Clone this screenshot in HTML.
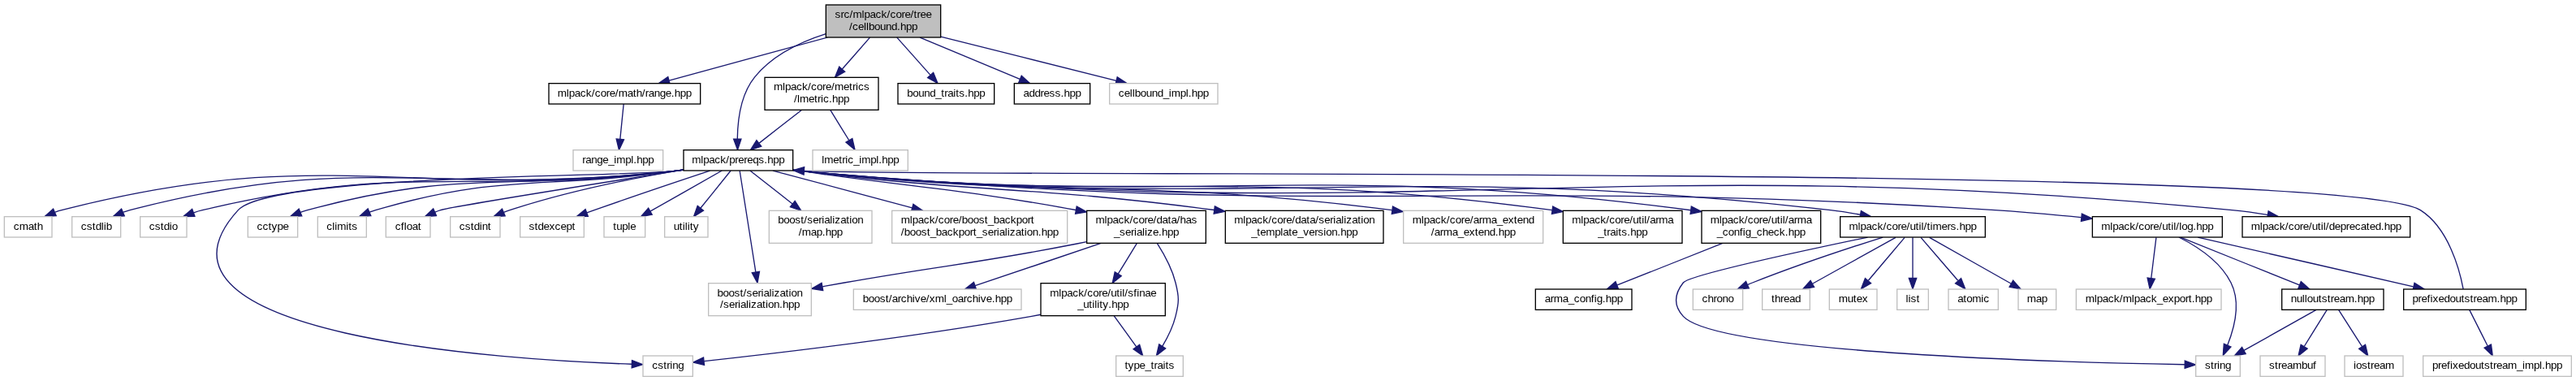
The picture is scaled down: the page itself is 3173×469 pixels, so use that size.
<!DOCTYPE html>
<html><head><meta charset="utf-8"><title>cellbound.hpp include dependency graph</title><style>html,body{margin:0;padding:0;background:#fff;width:3173px;height:469px;overflow:hidden}svg{display:block;will-change:transform}text{font-family:"Liberation Sans",sans-serif;font-size:10.125px;fill:#000}</style></head><body>
<svg width="3173" height="469" viewBox="0 0 2379.75 351.75"><rect x="0" y="0" width="2379.75" height="351.75" fill="#fff"/><g transform="translate(4 348)">
<g fill="none" stroke="#191970">
<path d="M759,-316.75C735.6,-309.36 709.72,-297.1 693.37,-277 680.29,-260.93 677.43,-236.6 677.21,-219.82"/>
<path d="M760.43,-313.48C716.66,-301.57 654.68,-284.72 614.17,-273.7"/>
<path d="M799.63,-313.4C792.16,-304.88 782.49,-293.85 774.06,-284.23"/>
<path d="M824.59,-313.4C833.63,-303.26 845.85,-289.57 855.33,-278.94"/>
<path d="M845.85,-313.4C873.34,-301.94 911.75,-285.94 938.11,-274.95"/>
<path d="M865.04,-314.19C912.92,-302.17 982.53,-284.7 1027.29,-273.47"/>
<path d="M627.3,-191.08C624.16,-190.69 621.04,-190.32 618,-190 367.8,-163.31 296.76,-216.39 53,-154 51.01,-153.49 49,-152.86 47,-152.14"/>
<path d="M627.3,-191.11C624.15,-190.71 621.04,-190.34 618,-190 395.67,-165.39 332.48,-210.33 116,-154 114.02,-153.48 112,-152.84 110.01,-152.12"/>
<path d="M627.29,-191.15C624.15,-190.74 621.03,-190.35 618,-190 425.3,-167.6 371.76,-198.74 183,-154 180.33,-153.37 177.59,-152.57 174.88,-151.67"/>
<path d="M627.29,-191.18C624.15,-190.76 621.03,-190.36 618,-190 573.47,-184.67 246.26,-187.09 216,-154 109.08,-37.08 466.16,-15.65 579.56,-11.82"/>
<path d="M627.28,-191.24C624.14,-190.8 621.03,-190.39 618,-190 468.15,-170.79 425.77,-193.68 280,-154 277.85,-153.41 275.66,-152.7 273.49,-151.91"/>
<path d="M627.27,-191.32C624.13,-190.87 621.02,-190.42 618,-190 495.93,-172.86 461.33,-188.52 343,-154 341.12,-153.45 339.21,-152.8 337.3,-152.09"/>
<path d="M627.49,-191.12C551.03,-179.13 413.61,-157.35 403,-154 401.33,-153.47 399.64,-152.87 397.95,-152.21"/>
<path d="M627.31,-191.35C584.06,-184.07 520.55,-171.61 467,-154 465.13,-153.39 463.23,-152.7 461.32,-151.96"/>
<path d="M651.93,-190.43C625.05,-181.54 581.98,-167.13 545,-154 542.76,-153.2 540.45,-152.37 538.13,-151.53"/>
<path d="M662.96,-190.48C645.72,-180.71 617.26,-164.58 596.97,-153.08"/>
<path d="M671.12,-190.48C663.85,-181.46 652.2,-167.02 643.16,-155.81"/>
<path d="M679.37,-190.31C682.38,-171.3 689.63,-125.47 694.14,-96.9"/>
<path d="M688.89,-190.48C699.09,-182.49 714.72,-170.25 728.11,-159.77"/>
<path d="M709.95,-190.48C743.4,-181.55 796.78,-167.31 838.62,-156.14"/>
<path d="M728.53,-191.26C731.39,-190.83 734.23,-190.41 737,-190 846.61,-173.87 877.15,-174.56 989.83,-154.13"/>
<path d="M728.5,-191.1C731.38,-190.71 734.22,-190.34 737,-190 903.03,-169.53 948.3,-176.58 1117.72,-154.1"/>
<path d="M728.81,-190.97C731.58,-190.62 734.32,-190.29 737,-190 975.46,-164 1040.09,-184.86 1281.94,-154.02"/>
<path d="M728.81,-190.92C731.58,-190.58 734.32,-190.27 737,-190 1040.97,-159.01 1123.29,-195.48 1429.88,-153.98"/>
<path d="M728.81,-190.9C731.57,-190.56 734.32,-190.26 737,-190 1097.66,-154.7 1194.81,-201.73 1557.96,-153.96"/>
<path d="M728.8,-190.88C731.57,-190.55 734.32,-190.25 737,-190 1157.64,-150.08 1267.18,-201.73 1687,-154 1695.92,-152.99 1705.37,-151.51 1714.45,-149.89"/>
<path d="M728.8,-190.86C731.57,-190.54 734.32,-190.25 737,-190 1224.97,-144.97 1349.98,-185.59 1839,-154 1865.04,-152.32 1893.57,-149.74 1918.68,-147.23"/>
<path d="M728.8,-190.84C731.57,-190.52 734.32,-190.24 737,-190 1321.99,-137.62 1473.39,-210.41 2058,-154 2068.63,-152.97 2079.92,-151.43 2090.72,-149.73"/>
<path d="M999.88,-124.8C996.88,-124.18 993.91,-123.57 991,-123 895.94,-104.29 871.41,-103.85 776,-87 769.44,-85.84 762.57,-84.6 755.75,-83.36"/>
<path d="M1046.32,-123.4C1041.24,-115.13 1034.7,-104.51 1028.91,-95.1"/>
<path d="M1065.07,-123.26C1071.3,-113.55 1078.71,-100.12 1082,-87 1085.35,-73.64 1085.34,-69.37 1082,-56 1079.56,-46.25 1074.56,-36.29 1069.76,-28.23"/>
<path d="M1013.12,-123.4C978.36,-111.69 929.49,-95.23 896.84,-84.23"/>
<path d="M957.46,-57.56C954.61,-57.01 951.77,-56.49 949,-56 838.83,-36.55 707.02,-21.18 646.44,-14.55"/>
<path d="M1025.19,-56.4C1031.37,-47.84 1039.3,-36.87 1045.82,-27.86"/>
<path d="M1587.41,-123.4C1558.38,-111.89 1517.78,-95.8 1490.05,-84.81"/>
<path d="M1763,-128.73C1763,-119.18 1763,-103.62 1763,-91.28"/>
<path d="M1770.55,-128.73C1779.28,-118.6 1793.85,-101.69 1804.74,-89.06"/>
<path d="M1778.51,-128.73C1797.91,-117.77 1831.33,-98.88 1854.03,-86.05"/>
<path d="M1721.44,-128.97C1661.24,-116.43 1556.33,-93.75 1551,-87 1542.46,-76.19 1541.71,-66.17 1551,-56 1582.3,-21.72 1911.32,-13.26 2014.34,-11.45"/>
<path d="M1735.43,-128.97C1705.49,-119.51 1656.4,-103.4 1615,-87 1613.58,-86.44 1612.14,-85.85 1610.68,-85.24"/>
<path d="M1747.22,-128.73C1727.49,-117.77 1693.49,-98.88 1670.39,-86.05"/>
<path d="M1755.58,-128.73C1747.01,-118.6 1732.7,-101.69 1722.01,-89.06"/>
<path d="M2008.9,-128.99C2025.16,-120.84 2047.02,-106.84 2057,-87 2066.16,-68.79 2060.14,-45.29 2053.78,-29.27"/>
<path d="M2010.51,-128.87C2038.67,-117.57 2088.2,-97.7 2120.3,-84.82"/>
<path d="M1987.92,-128.73C1986.75,-119.18 1984.83,-103.62 1983.31,-91.28"/>
<path d="M2026.42,-128.94C2077.61,-117.22 2169.48,-96.19 2225.48,-83.38"/>
<path d="M2135.81,-61.98C2118.34,-52.17 2089.42,-35.93 2068.92,-24.42"/>
<path d="M2145.7,-61.98C2140.26,-53.23 2131.64,-39.37 2124.76,-28.31"/>
<path d="M2156.44,-61.98C2162.09,-53.14 2171.06,-39.09 2178.16,-27.98"/>
<path d="M2271.62,-81.1C2268.33,-98.44 2258.23,-137.39 2232,-154 2163.72,-197.22 892.2,-183.54 739.02,-190.22"/>
<path d="M2277.3,-61.98C2281.66,-53.32 2288.56,-39.65 2294.1,-28.65"/>
<path d="M572.14,-251.98C571.29,-243.58 569.97,-230.48 568.88,-219.66"/>
<path d="M736.52,-246.4C724.73,-237.22 709.38,-225.26 697.39,-215.92"/>
<path d="M763.06,-246.4C768.25,-238.02 774.87,-227.33 780.37,-218.42"/>
</g><g fill="#191970" stroke="#191970">
<polygon points="680.72,-219.63 677.4,-209.61 673.72,-219.58 680.72,-219.63"/>
<polygon points="614.93,-270.28 604.36,-271.03 613.09,-277.03 614.93,-270.28"/>
<polygon points="776.57,-281.79 767.34,-276.58 771.31,-286.4 776.57,-281.79"/>
<polygon points="858.2,-280.99 862.24,-271.19 852.97,-276.33 858.2,-280.99"/>
<polygon points="939.7,-278.08 947.58,-271.01 937.01,-271.62 939.7,-278.08"/>
<polygon points="1028.15,-276.86 1036.99,-271.03 1026.44,-270.07 1028.15,-276.86"/>
<polygon points="47.92,-148.73 37.35,-148.06 45.2,-155.18 47.92,-148.73"/>
<polygon points="110.93,-148.71 100.35,-148.03 108.2,-155.16 110.93,-148.71"/>
<polygon points="175.93,-148.33 165.34,-148.12 173.49,-154.89 175.93,-148.33"/>
<polygon points="579.87,-15.31 589.75,-11.5 579.65,-8.31 579.87,-15.31"/>
<polygon points="274.81,-148.67 264.23,-148.06 272.13,-155.13 274.81,-148.67"/>
<polygon points="338.62,-148.84 328.04,-148.15 335.87,-155.28 338.62,-148.84"/>
<polygon points="399.09,-148.89 388.53,-148.06 396.27,-155.29 399.09,-148.89"/>
<polygon points="462.57,-148.69 452,-148.02 459.85,-155.14 462.57,-148.69"/>
<polygon points="539.24,-148.21 528.64,-148.05 536.82,-154.78 539.24,-148.21"/>
<polygon points="598.44,-149.89 588.02,-148.01 594.99,-155.98 598.44,-149.89"/>
<polygon points="645.87,-153.59 636.86,-148.01 640.42,-157.99 645.87,-153.59"/>
<polygon points="697.62,-97.31 695.73,-86.89 690.71,-96.22 697.62,-97.31"/>
<polygon points="730.37,-162.44 736.09,-153.52 726.06,-156.93 730.37,-162.44"/>
<polygon points="839.68,-159.48 848.44,-153.52 837.88,-152.72 839.68,-159.48"/>
<polygon points="990.69,-157.53 999.9,-152.28 989.43,-150.64 990.69,-157.53"/>
<polygon points="1118.28,-157.56 1127.73,-152.76 1117.35,-150.62 1118.28,-157.56"/>
<polygon points="1282.64,-157.45 1292.1,-152.7 1281.74,-150.51 1282.64,-157.45"/>
<polygon points="1430.52,-157.43 1439.95,-152.6 1429.57,-150.49 1430.52,-157.43"/>
<polygon points="1558.5,-157.42 1567.96,-152.63 1557.58,-150.48 1558.5,-157.42"/>
<polygon points="1715.32,-153.29 1724.51,-148.01 1714.04,-146.41 1715.32,-153.29"/>
<polygon points="1919.26,-150.69 1928.86,-146.2 1918.55,-143.73 1919.26,-150.69"/>
<polygon points="2091.6,-153.13 2100.9,-148.06 2090.46,-146.23 2091.6,-153.13"/>
<polygon points="756.29,-79.9 745.83,-81.53 755.03,-86.78 756.29,-79.9"/>
<polygon points="1031.88,-93.26 1023.66,-86.58 1025.92,-96.93 1031.88,-93.26"/>
<polygon points="1072.69,-26.32 1064.37,-19.77 1066.79,-30.08 1072.69,-26.32"/>
<polygon points="897.85,-80.88 887.26,-81.01 895.62,-87.52 897.85,-80.88"/>
<polygon points="646.64,-11.05 636.32,-13.45 645.89,-18.01 646.64,-11.05"/>
<polygon points="1048.72,-29.81 1051.74,-19.66 1043.05,-25.71 1048.72,-29.81"/>
<polygon points="1491.05,-81.44 1480.46,-81.01 1488.47,-87.95 1491.05,-81.44"/>
<polygon points="1766.5,-91.13 1763,-81.13 1759.5,-91.13 1766.5,-91.13"/>
<polygon points="1807.69,-90.99 1811.57,-81.13 1802.39,-86.42 1807.69,-90.99"/>
<polygon points="1855.75,-89.09 1862.74,-81.13 1852.31,-83 1855.75,-89.09"/>
<polygon points="2014.47,-14.95 2024.41,-11.28 2014.35,-7.95 2014.47,-14.95"/>
<polygon points="1611.71,-81.87 1601.15,-81.09 1608.92,-88.29 1611.71,-81.87"/>
<polygon points="1671.97,-82.92 1661.53,-81.13 1668.57,-89.04 1671.97,-82.92"/>
<polygon points="1724.43,-86.5 1715.3,-81.13 1719.09,-91.02 1724.43,-86.5"/>
<polygon points="2056.92,-27.72 2049.71,-19.96 2050.5,-30.53 2056.92,-27.72"/>
<polygon points="2121.68,-88.04 2129.66,-81.06 2119.07,-81.54 2121.68,-88.04"/>
<polygon points="1986.76,-90.62 1982.06,-81.13 1979.81,-91.48 1986.76,-90.62"/>
<polygon points="2226.53,-86.73 2235.5,-81.08 2224.97,-79.9 2226.53,-86.73"/>
<polygon points="2070.59,-21.35 2060.16,-19.51 2067.17,-27.46 2070.59,-21.35"/>
<polygon points="2127.54,-26.15 2119.29,-19.51 2121.6,-29.85 2127.54,-26.15"/>
<polygon points="2181.13,-29.82 2183.57,-19.51 2175.23,-26.05 2181.13,-29.82"/>
<polygon points="738.57,-186.74 728.8,-190.83 738.99,-193.73 738.57,-186.74"/>
<polygon points="2297.33,-30.01 2298.71,-19.51 2291.08,-26.86 2297.33,-30.01"/>
<polygon points="572.34,-219.11 567.86,-209.51 565.38,-219.81 572.34,-219.11"/>
<polygon points="699.33,-212.94 689.35,-209.66 694.94,-218.51 699.33,-212.94"/>
<polygon points="783.38,-220.08 785.8,-209.66 777.47,-216.6 783.38,-220.08"/>
</g>
<rect x="759" y="-343.5" width="106" height="30" fill="#bfbfbf" stroke="#000"/>
<text x="767.38 772.62 775.62 780.88 783.88 792.12 794.38 799.62 804.88 810.12 815.38 818.38 823.62 828.88 831.88 837.12 840.12 843.12 846.12 851.38" y="-331.5">src/mlpack/core/tree</text>
<text x="780.5 783.5 788.75 794 796.25 798.5 803.75 809 814.25 819.5 824.75 827.75 833 838.25" y="-320.5">/cellbound.hpp</text>
<rect x="627.5" y="-209.5" width="101" height="19" fill="#fff" stroke="#000"/>
<text x="635.25 643.5 645.75 651 656.25 661.5 666.75 669.75 675 678 683.25 686.25 691.5 696.75 702 705 710.25 715.5" y="-197.5">mlpack/prereqs.hpp</text>
<rect x="503" y="-271" width="140" height="19" fill="#fff" stroke="#000"/>
<text x="511.12 519.38 521.62 526.88 532.12 537.38 542.62 545.62 550.88 556.12 559.12 564.38 567.38 575.62 580.88 583.88 589.12 592.12 595.12 600.38 605.62 610.88 616.12 619.12 624.38 629.62" y="-259">mlpack/core/math/range.hpp</text>
<rect x="702.5" y="-276.5" width="105" height="30" fill="#fff" stroke="#000"/>
<text x="710.75 719 721.25 726.5 731.75 737 742.25 745.25 750.5 755.75 758.75 764 767 775.25 780.5 783.5 786.5 788.75 794" y="-264.5">mlpack/core/metrics</text>
<text x="729.5 732.5 734.75 743 748.25 751.25 754.25 756.5 761.75 764.75 770 775.25" y="-253.5">/lmetric.hpp</text>
<rect x="825.5" y="-271" width="89" height="19" fill="#fff" stroke="#000"/>
<text x="834 839.25 844.5 849.75 855 860.25 865.5 868.5 871.5 876.75 879 882 887.25 890.25 895.5 900.75" y="-259">bound_traits.hpp</text>
<rect x="933" y="-271" width="70" height="19" fill="#fff" stroke="#000"/>
<text x="941.38 946.62 951.88 957.12 960.12 965.38 970.62 975.88 978.88 984.12 989.38" y="-259">address.hpp</text>
<rect x="1021" y="-271" width="100" height="19" fill="#fff" stroke="#bfbfbf"/>
<text x="1029.38 1034.62 1039.88 1042.12 1044.38 1049.62 1054.88 1060.12 1065.38 1070.62 1075.88 1078.12 1086.38 1091.62 1093.88 1096.88 1102.12 1107.38" y="-259">cellbound_impl.hpp</text>
<rect x="0" y="-148" width="44" height="19" fill="#fff" stroke="#bfbfbf"/>
<text x="8.5 13.75 22 27.25 30.25" y="-136">cmath</text>
<rect x="62.5" y="-148" width="45" height="19" fill="#fff" stroke="#bfbfbf"/>
<text x="70.75 76 81.25 84.25 89.5 91.75 94" y="-136">cstdlib</text>
<rect x="125.5" y="-148" width="43" height="19" fill="#fff" stroke="#bfbfbf"/>
<text x="133.88 139.12 144.38 147.38 152.62 154.88" y="-136">cstdio</text>
<rect x="590" y="-19.5" width="46" height="19" fill="#fff" stroke="#bfbfbf"/>
<text x="598.38 603.62 608.88 611.88 614.88 617.12 622.38" y="-7.5">cstring</text>
<rect x="225" y="-148" width="46" height="19" fill="#fff" stroke="#bfbfbf"/>
<text x="233.38 238.62 243.88 246.88 252.12 257.38" y="-136">cctype</text>
<rect x="289.5" y="-148" width="45" height="19" fill="#fff" stroke="#bfbfbf"/>
<text x="297.75 303 305.25 307.5 315.75 318 321" y="-136">climits</text>
<rect x="352.5" y="-148" width="41" height="19" fill="#fff" stroke="#bfbfbf"/>
<text x="361 366.25 369.25 371.5 376.75 382" y="-136">cfloat</text>
<rect x="412" y="-148" width="46" height="19" fill="#fff" stroke="#bfbfbf"/>
<text x="420.38 425.62 430.88 433.88 439.12 441.38 446.62" y="-136">cstdint</text>
<rect x="476.5" y="-148" width="59" height="19" fill="#fff" stroke="#bfbfbf"/>
<text x="484.62 489.88 492.88 498.12 503.38 508.62 513.88 519.12 524.38" y="-136">stdexcept</text>
<rect x="554" y="-148" width="38" height="19" fill="#fff" stroke="#bfbfbf"/>
<text x="562.5 565.5 570.75 576 578.25" y="-136">tuple</text>
<rect x="610" y="-148" width="40" height="19" fill="#fff" stroke="#bfbfbf"/>
<text x="618.38 623.62 626.62 628.88 631.12 633.38 636.38" y="-136">utility</text>
<rect x="650.5" y="-86.5" width="95" height="30" fill="#fff" stroke="#bfbfbf"/>
<text x="658.62 663.88 669.12 674.38 679.62 682.62 685.62 690.88 696.12 699.12 701.38 706.62 708.88 711.12 716.38 721.62 724.62 726.88 732.12" y="-74.5">boost/serialization</text>
<text x="661.25 664.25 669.5 674.75 677.75 680 685.25 687.5 689.75 695 700.25 703.25 705.5 710.75 716 719 724.25 729.5" y="-63.5">/serialization.hpp</text>
<rect x="706.5" y="-153.5" width="95" height="30" fill="#fff" stroke="#bfbfbf"/>
<text x="714.62 719.88 725.12 730.38 735.62 738.62 741.62 746.88 752.12 755.12 757.38 762.62 764.87 767.12 772.37 777.62 780.62 782.87 788.12" y="-141.5">boost/serialization</text>
<text x="733.75 736.75 745 750.25 755.5 758.5 763.75 769" y="-130.5">/map.hpp</text>
<rect x="820" y="-153.5" width="162" height="30" fill="#fff" stroke="#bfbfbf"/>
<text x="828.25 836.5 838.75 844 849.25 854.5 859.75 862.75 868 873.25 876.25 881.5 884.5 889.75 895 900.25 905.5 908.5 913.75 919 924.25 929.5 934.75 940 945.25 948.25" y="-141.5">mlpack/core/boost_backport</text>
<text x="828.25 831.25 836.5 841.75 847 852.25 855.25 860.5 865.75 871 876.25 881.5 886.75 892 895 898 903.25 908.5 913.75 916.75 919 924.25 926.5 928.75 934 939.25 942.25 944.5 949.75 955 958 963.25 968.5" y="-130.5">/boost_backport_serialization.hpp</text>
<rect x="1000" y="-153.5" width="110" height="30" fill="#fff" stroke="#000"/>
<text x="1008.12 1016.38 1018.62 1023.88 1029.12 1034.38 1039.62 1042.62 1047.88 1053.12 1056.12 1061.38 1064.38 1069.62 1074.88 1077.88 1083.12 1086.12 1091.38 1096.62" y="-141.5">mlpack/core/data/has</text>
<text x="1025 1030.25 1035.5 1040.75 1043.75 1046 1051.25 1053.5 1055.75 1061 1066.25 1069.25 1074.5 1079.75" y="-130.5">_serialize.hpp</text>
<rect x="1128" y="-153.5" width="146" height="30" fill="#fff" stroke="#000"/>
<text x="1136.12 1144.38 1146.62 1151.88 1157.12 1162.38 1167.62 1170.62 1175.88 1181.12 1184.12 1189.38 1192.38 1197.62 1202.88 1205.88 1211.12 1214.12 1219.38 1224.62 1227.62 1229.88 1235.12 1237.38 1239.62 1244.88 1250.12 1253.12 1255.38 1260.62" y="-141.5">mlpack/core/data/serialization</text>
<text x="1151.88 1157.12 1160.12 1165.38 1173.62 1178.88 1181.12 1186.38 1189.38 1194.62 1199.88 1205.12 1210.38 1213.38 1218.62 1220.88 1226.12 1231.38 1234.38 1239.62 1244.88" y="-130.5">_template_version.hpp</text>
<rect x="1292.5" y="-153.5" width="129" height="30" fill="#fff" stroke="#bfbfbf"/>
<text x="1300.75 1309 1311.25 1316.5 1321.75 1327 1332.25 1335.25 1340.5 1345.75 1348.75 1354 1357 1362.25 1365.25 1373.5 1378.75 1384 1389.25 1394.5 1397.5 1402.75 1408" y="-141.5">mlpack/core/arma_extend</text>
<text x="1318 1321 1326.25 1329.25 1337.5 1342.75 1348 1353.25 1358.5 1361.5 1366.75 1372 1377.25 1380.25 1385.5 1390.75" y="-130.5">/arma_extend.hpp</text>
<rect x="1440" y="-153.5" width="110" height="30" fill="#fff" stroke="#000"/>
<text x="1448.12 1456.38 1458.62 1463.88 1469.12 1474.38 1479.62 1482.62 1487.88 1493.12 1496.12 1501.38 1504.38 1509.62 1512.62 1514.88 1517.12 1520.12 1525.38 1528.38 1536.63" y="-141.5">mlpack/core/util/arma</text>
<text x="1472.12 1477.38 1480.38 1483.38 1488.62 1490.88 1493.88 1499.12 1502.12 1507.38 1512.62" y="-130.5">_traits.hpp</text>
<rect x="1568" y="-153.5" width="110" height="30" fill="#fff" stroke="#000"/>
<text x="1576.12 1584.38 1586.62 1591.88 1597.12 1602.38 1607.62 1610.62 1615.88 1621.12 1624.12 1629.38 1632.38 1637.62 1640.62 1642.88 1645.12 1648.12 1653.38 1656.38 1664.62" y="-141.5">mlpack/core/util/arma</text>
<text x="1582.12 1587.38 1592.62 1597.88 1603.12 1606.12 1608.38 1613.62 1618.88 1624.12 1629.38 1634.62 1639.88 1645.12 1648.12 1653.38 1658.62" y="-130.5">_config_check.hpp</text>
<rect x="1696" y="-148" width="134" height="19" fill="#fff" stroke="#000"/>
<text x="1704.12 1712.38 1714.62 1719.88 1725.12 1730.38 1735.62 1738.62 1743.88 1749.12 1752.12 1757.38 1760.38 1765.62 1768.62 1770.88 1773.12 1776.12 1779.12 1781.38 1789.62 1794.88 1797.88 1803.12 1806.12 1811.38 1816.62" y="-136">mlpack/core/util/timers.hpp</text>
<rect x="1929" y="-148" width="120" height="19" fill="#fff" stroke="#000"/>
<text x="1937.25 1945.5 1947.75 1953 1958.25 1963.5 1968.75 1971.75 1977 1982.25 1985.25 1990.5 1993.5 1998.75 2001.75 2004 2006.25 2009.25 2011.5 2016.75 2022 2025 2030.25 2035.5" y="-136">mlpack/core/util/log.hpp</text>
<rect x="2067.5" y="-148" width="155" height="19" fill="#fff" stroke="#000"/>
<text x="2075.62 2083.88 2086.12 2091.38 2096.62 2101.88 2107.12 2110.12 2115.38 2120.62 2123.62 2128.88 2131.88 2137.12 2140.12 2142.38 2144.62 2147.62 2152.88 2158.12 2163.38 2166.38 2171.62 2176.88 2182.12 2185.12 2190.38 2195.62 2198.62 2203.88 2209.12" y="-136">mlpack/core/util/deprecated.hpp</text>
<rect x="957.5" y="-86.5" width="115" height="30" fill="#fff" stroke="#000"/>
<text x="965.88 974.12 976.38 981.62 986.88 992.12 997.38 1000.38 1005.62 1010.88 1013.88 1019.12 1022.12 1027.38 1030.38 1032.62 1034.88 1037.88 1043.12 1046.12 1048.38 1053.62 1058.88" y="-74.5">mlpack/core/util/sfinae</text>
<text x="991.38 996.62 1001.88 1004.88 1007.12 1009.38 1011.62 1014.62 1019.88 1022.88 1028.12 1033.38" y="-63.5">_utility.hpp</text>
<rect x="1027" y="-19.5" width="62" height="19" fill="#fff" stroke="#bfbfbf"/>
<text x="1035.12 1038.12 1043.38 1048.62 1053.88 1059.12 1062.12 1065.12 1070.38 1072.62 1075.62" y="-7.5">type_traits</text>
<rect x="784.5" y="-81" width="155" height="19" fill="#fff" stroke="#bfbfbf"/>
<text x="793 798.25 803.5 808.75 814 817 820 825.25 828.25 833.5 838.75 841 846.25 851.5 854.5 859.75 868 870.25 875.5 880.75 886 889 894.25 899.5 901.75 907 912.25 915.25 920.5 925.75" y="-69">boost/archive/xml_oarchive.hpp</text>
<rect x="1414.5" y="-81" width="89" height="19" fill="#fff" stroke="#000"/>
<text x="1423 1428.25 1431.25 1439.5 1444.75 1450 1455.25 1460.5 1465.75 1468.75 1471 1476.25 1479.25 1484.5 1489.75" y="-69">arma_config.hpp</text>
<rect x="1748.5" y="-81" width="29" height="19" fill="#fff" stroke="#bfbfbf"/>
<text x="1756.62 1758.88 1761.12 1766.38" y="-69">list</text>
<rect x="1796" y="-81" width="46" height="19" fill="#fff" stroke="#bfbfbf"/>
<text x="1804.38 1809.62 1812.62 1817.88 1826.12 1828.38" y="-69">atomic</text>
<rect x="1860.5" y="-81" width="35" height="19" fill="#fff" stroke="#bfbfbf"/>
<text x="1868.62 1876.88 1882.12" y="-69">map</text>
<rect x="2024.5" y="-19.5" width="41" height="19" fill="#fff" stroke="#bfbfbf"/>
<text x="2033 2038.25 2041.25 2044.25 2046.5 2051.75" y="-7.5">string</text>
<rect x="1560" y="-81" width="46" height="19" fill="#fff" stroke="#bfbfbf"/>
<text x="1568.38 1573.62 1578.88 1581.88 1587.12 1592.38" y="-69">chrono</text>
<rect x="1624" y="-81" width="44" height="19" fill="#fff" stroke="#bfbfbf"/>
<text x="1632.5 1635.5 1640.75 1643.75 1649 1654.25" y="-69">thread</text>
<rect x="1686" y="-81" width="44" height="19" fill="#fff" stroke="#bfbfbf"/>
<text x="1694.5 1702.75 1708 1711 1716.25" y="-69">mutex</text>
<rect x="2104" y="-81" width="94" height="19" fill="#fff" stroke="#000"/>
<text x="2112.38 2117.62 2122.88 2125.12 2127.38 2132.62 2137.88 2140.88 2146.12 2149.12 2152.12 2157.38 2162.62 2170.88 2173.88 2179.12 2184.38" y="-69">nulloutstream.hpp</text>
<rect x="1914" y="-81" width="134" height="19" fill="#fff" stroke="#bfbfbf"/>
<text x="1922.5 1930.75 1933 1938.25 1943.5 1948.75 1954 1957 1965.25 1967.5 1972.75 1978 1983.25 1988.5 1993.75 1999 2004.25 2009.5 2014.75 2017.75 2020.75 2023.75 2029 2034.25" y="-69">mlpack/mlpack_export.hpp</text>
<rect x="2216.5" y="-81" width="113" height="19" fill="#fff" stroke="#000"/>
<text x="2224.62 2229.88 2232.88 2238.12 2241.12 2243.38 2248.62 2253.88 2259.12 2264.38 2269.62 2272.62 2277.88 2280.88 2283.88 2289.12 2294.38 2302.62 2305.62 2310.88 2316.12" y="-69">prefixedoutstream.hpp</text>
<rect x="2084" y="-19.5" width="60" height="19" fill="#fff" stroke="#bfbfbf"/>
<text x="2092.25 2097.5 2100.5 2103.5 2108.75 2114 2122.25 2127.5 2132.75" y="-7.5">streambuf</text>
<rect x="2162" y="-19.5" width="54" height="19" fill="#fff" stroke="#bfbfbf"/>
<text x="2170.25 2172.5 2177.75 2183 2186 2189 2194.25 2199.5" y="-7.5">iostream</text>
<rect x="2234.5" y="-19.5" width="137" height="19" fill="#fff" stroke="#bfbfbf"/>
<text x="2243 2248.25 2251.25 2256.5 2259.5 2261.75 2267 2272.25 2277.5 2282.75 2288 2291 2296.25 2299.25 2302.25 2307.5 2312.75 2321 2326.25 2328.5 2336.75 2342 2344.25 2347.25 2352.5 2357.75" y="-7.5">prefixedoutstream_impl.hpp</text>
<rect x="525.5" y="-209.5" width="83" height="19" fill="#fff" stroke="#bfbfbf"/>
<text x="534 537 542.25 547.5 552.75 558 563.25 565.5 573.75 579 581.25 584.25 589.5 594.75" y="-197.5">range_impl.hpp</text>
<rect x="746.75" y="-209.5" width="88" height="19" fill="#fff" stroke="#bfbfbf"/>
<text x="755.12 757.38 765.62 770.87 773.87 776.87 779.12 784.37 789.62 791.87 800.12 805.37 807.62 810.62 815.87 821.12" y="-197.5">lmetric_impl.hpp</text>
</g></svg></body></html>
